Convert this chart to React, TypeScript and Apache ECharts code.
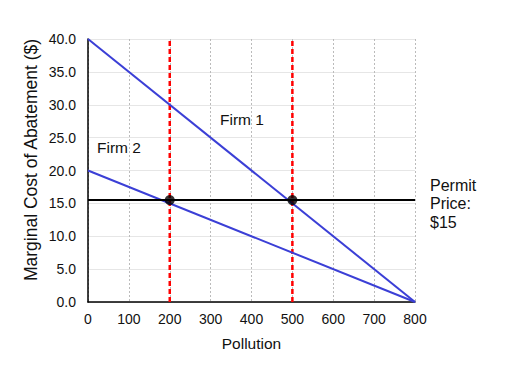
import React, { useEffect, useRef } from "react";
import * as echarts from "echarts";

const xTicks = [0, 100, 200, 300, 400, 500, 600, 700, 800];
const firm1 = [[0, 40], [800, 0]];
const firm2 = [[0, 20], [800, 0]];
const permitPrice = [[0, 15.5], [800, 15.5]];
const equilibria = [[200, 15.5], [500, 15.5]];
const firm2Cut = [[200, 0], [200, 40]];
const firm1Cut = [[500, 0], [500, 40]];

const FONT = "'Liberation Sans', Arial, Helvetica, sans-serif";

export default function App() {
  const ref = useRef<HTMLDivElement>(null);
  useEffect(() => {
    if (!ref.current) return;
    const chart = echarts.init(ref.current, undefined, { renderer: "svg" });
    const redDash = {
      type: "line",
      showSymbol: false,
      symbol: "none",
      lineStyle: { color: "#ff0000", width: 2.5, type: [5, 3] },
      z: 3,
    };
    chart.setOption({
      animation: false,
      textStyle: { fontFamily: FONT },
      grid: { left: 88, right: 104, top: 39, bottom: 82 },
      xAxis: {
        type: "value",
        min: 0,
        max: 800,
        interval: 100,
        name: "Pollution",
        nameLocation: "middle",
        nameGap: 33,
        nameTextStyle: { fontSize: 15.5, color: "#111", fontFamily: FONT },
        axisLine: { lineStyle: { color: "#000", width: 1.5 } },
        axisTick: { show: false },
        axisLabel: { color: "#111", fontSize: 14, margin: 10, fontFamily: FONT },
        splitLine: { show: true, lineStyle: { color: "#bbbbbb", type: [2, 2], width: 1 } },
      },
      yAxis: {
        type: "value",
        min: 0,
        max: 40,
        interval: 5,
        axisLine: { show: true, lineStyle: { color: "#000", width: 1.5 } },
        axisTick: { show: false },
        axisLabel: {
          color: "#111",
          fontSize: 14,
          margin: 12,
          fontFamily: FONT,
          formatter: (v: number) => v.toFixed(1),
        },
        splitLine: { show: true, lineStyle: { color: "#e6e6e6", width: 1 } },
      },
      series: [
        { ...redDash, data: firm2Cut },
        { ...redDash, data: firm1Cut },
        {
          type: "line",
          data: firm1,
          symbol: "none",
          lineStyle: { color: "#3b3fd6", width: 2 },
          z: 4,
        },
        {
          type: "line",
          data: firm2,
          symbol: "none",
          lineStyle: { color: "#3b3fd6", width: 2 },
          z: 4,
        },
        {
          type: "line",
          data: permitPrice,
          symbol: "none",
          lineStyle: { color: "#000", width: 2 },
          z: 5,
        },
        {
          type: "scatter",
          data: equilibria,
          symbol: "circle",
          symbolSize: 10,
          itemStyle: { color: "#000" },
          z: 6,
        },
      ],
      graphic: [
        {
          type: "text",
          x: 31,
          y: 160,
          rotation: Math.PI / 2,
          style: {
            text: "Marginal Cost of Abatement ($)",
            fontSize: 17.5,
            fill: "#111",
            fontFamily: FONT,
            align: "center",
            verticalAlign: "middle",
          },
        },
        {
          type: "text",
          x: 220,
          y: 119,
          style: { text: "Firm 1", fontSize: 15.5, fill: "#111", fontFamily: FONT, verticalAlign: "middle" },
        },
        {
          type: "text",
          x: 97,
          y: 147,
          style: { text: "Firm 2", fontSize: 15.5, fill: "#111", fontFamily: FONT, verticalAlign: "middle" },
        },
        {
          type: "text",
          x: 430,
          y: 176,
          style: {
            text: "Permit\nPrice:\n$15",
            fontSize: 16,
            lineHeight: 18.5,
            fill: "#111",
            fontFamily: FONT,
            verticalAlign: "top",
          },
        },
      ],
    });
    return () => chart.dispose();
  }, []);
  return <div ref={ref} style={{ width: 519, height: 384, position: "absolute", left: 0, top: 0 }} />;
}
